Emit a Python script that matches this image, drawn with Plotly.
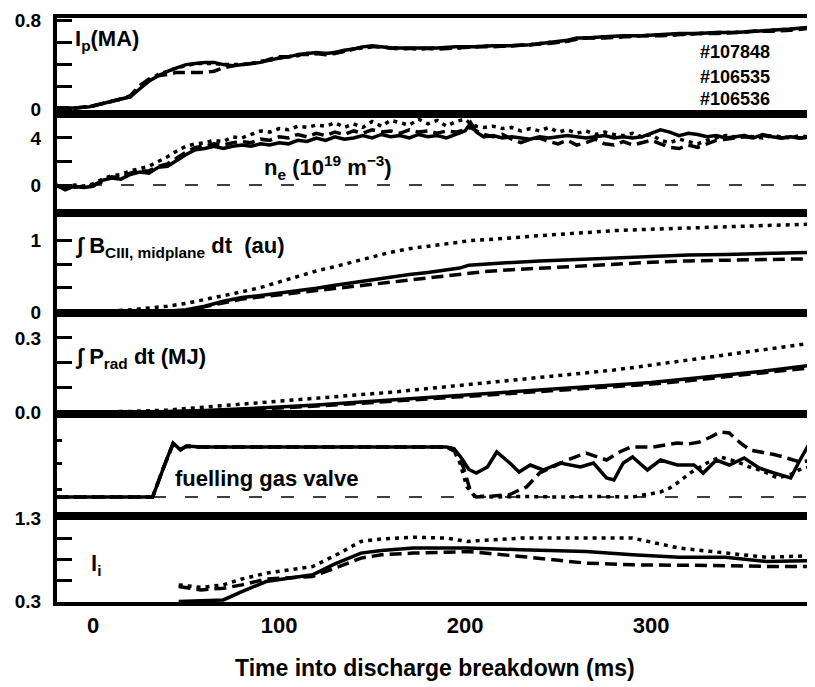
import plotly.graph_objects as go
from plotly.subplots import make_subplots

# shot numbers (solid, dashed, dotted)
shots = ["#107848", "#106535", "#106536"]

# ---- plasma current Ip (MA)
t_ip = [-20, -10, -2, 5, 10, 15, 20, 25, 30, 35, 40, 45, 50, 55, 60, 65, 70, 75, 80, 85,
        90, 95, 100, 105, 110, 115, 120, 125, 130, 135, 140, 145, 150, 155, 160, 165, 175,
        185, 195, 205, 215, 225, 235, 245, 255, 260, 265, 275, 285, 295, 305, 315, 325,
        335, 345, 355, 365, 375, 387]
ip_a = [0.01, 0.01, 0.02, 0.05, 0.07, 0.09, 0.11, 0.18, 0.25, 0.30, 0.34, 0.37, 0.40, 0.41,
        0.42, 0.42, 0.40, 0.39, 0.40, 0.41, 0.42, 0.44, 0.46, 0.47, 0.49, 0.50, 0.51, 0.50,
        0.51, 0.53, 0.54, 0.56, 0.57, 0.56, 0.55, 0.55, 0.55, 0.55, 0.56, 0.56, 0.57, 0.57,
        0.58, 0.60, 0.62, 0.64, 0.64, 0.65, 0.66, 0.66, 0.67, 0.68, 0.68, 0.69, 0.69, 0.70,
        0.71, 0.72, 0.74]
ip_b = [0.01, 0.01, 0.02, 0.05, 0.07, 0.09, 0.12, 0.21, 0.27, 0.30, 0.31, 0.33, 0.33, 0.33,
        0.33, 0.34, 0.37, 0.39, 0.40, 0.41, 0.42, 0.45, 0.47, 0.47, 0.49, 0.49, 0.50, 0.49,
        0.50, 0.52, 0.54, 0.56, 0.56, 0.56, 0.55, 0.54, 0.55, 0.54, 0.55, 0.56, 0.56, 0.57,
        0.58, 0.59, 0.61, 0.63, 0.64, 0.64, 0.65, 0.66, 0.66, 0.67, 0.68, 0.68, 0.69, 0.70,
        0.70, 0.71, 0.73]
ip_c = [0.01, 0.01, 0.02, 0.05, 0.07, 0.09, 0.11, 0.19, 0.26, 0.31, 0.34, 0.37, 0.39, 0.41,
        0.41, 0.41, 0.40, 0.40, 0.40, 0.41, 0.43, 0.44, 0.46, 0.47, 0.48, 0.50, 0.50, 0.50,
        0.51, 0.52, 0.54, 0.55, 0.56, 0.56, 0.55, 0.55, 0.54, 0.55, 0.55, 0.56, 0.57, 0.57,
        0.58, 0.60, 0.61, 0.63, 0.64, 0.65, 0.65, 0.66, 0.67, 0.67, 0.68, 0.69, 0.69, 0.70,
        0.71, 0.72, 0.73]

# ---- line averaged density ne (1e19 m^-3)
t_ne = [-20, -15, -10, -5, 0, 5, 10, 15, 20, 25, 30, 35, 40, 45, 50, 55, 60, 65, 70, 75,
        80, 85, 90, 95, 100, 105, 110, 115, 120, 125, 130, 135, 140, 145, 150, 155, 160,
        165, 170, 175, 180, 185, 190, 195, 200, 203, 206, 210, 215, 220, 225, 230, 235,
        240, 245, 250, 255, 260, 265, 270, 275, 280, 285, 290, 295, 300, 305, 310, 315,
        320, 325, 330, 335, 340, 345, 350, 355, 360, 365, 370, 375, 380, 387]
ne_a = [0.0, -0.4, -0.1, -0.2, -0.1, 0.4, 0.6, 0.5, 0.9, 1.1, 1.0, 1.5, 1.6, 2.1, 2.6, 3.0,
        3.1, 3.3, 3.1, 3.3, 3.4, 3.3, 3.5, 3.4, 3.6, 3.5, 3.8, 3.7, 4.0, 3.8, 4.1, 3.9, 4.0,
        4.2, 4.0, 4.3, 4.1, 4.2, 4.0, 4.3, 4.1, 4.2, 4.0, 4.3, 4.6, 5.3, 4.5, 4.1, 4.2, 4.0,
        4.1, 4.0, 3.9, 4.1, 4.0, 4.1, 4.2, 4.1, 4.0, 4.1, 4.2, 4.0, 4.1, 4.0, 4.1, 4.4, 4.7,
        4.5, 4.2, 4.4, 4.3, 4.1, 4.2, 4.0, 4.1, 4.2, 4.0, 4.3, 4.1, 4.0, 4.1, 4.0, 4.1]
ne_b = [0.0, -0.3, -0.2, -0.1, 0.0, 0.3, 0.7, 0.6, 1.0, 1.2, 1.2, 1.6, 1.8, 2.3, 2.8, 3.2,
        3.3, 3.5, 3.4, 3.6, 3.7, 3.6, 3.9, 3.8, 4.1, 4.0, 4.3, 4.1, 4.4, 4.2, 4.5, 4.3, 4.6,
        4.4, 4.7, 4.5, 4.6, 4.4, 4.7, 4.5, 4.6, 4.4, 4.6, 4.5, 4.7, 4.9, 4.6, 4.3, 4.1, 4.3,
        3.9, 3.6, 3.9, 4.0, 3.7, 3.5, 3.8, 3.4, 3.6, 3.9, 3.5, 3.4, 3.7, 3.4, 3.6, 3.8, 3.5,
        3.2, 3.1, 3.4, 3.2, 3.5, 3.8, 3.9, 4.0, 4.1, 4.0, 4.2, 4.1, 4.0, 4.1, 4.0, 4.1]
ne_c = [0.0, -0.3, 0.0, -0.1, 0.1, 0.5, 0.8, 0.9, 1.2, 1.4, 1.6, 2.0, 2.4, 2.9, 3.3, 3.5,
        3.6, 3.8, 3.7, 4.1, 4.0, 4.3, 4.6, 4.5, 4.8, 4.7, 5.0, 4.9, 5.1, 5.0, 5.3, 4.9, 5.2,
        4.9, 5.4, 5.0, 5.5, 5.3, 5.1, 5.6, 5.2, 5.5, 5.0, 5.4, 5.6, 5.2, 5.0, 4.9, 5.0, 4.8,
        4.9, 4.6, 4.8, 4.6, 4.9, 4.5, 4.7, 4.4, 4.6, 4.3, 4.5, 4.3, 4.2, 4.4, 4.1, 4.3, 3.8,
        3.6, 3.9, 3.7, 3.5, 3.8, 4.0, 4.2, 4.1, 4.2, 4.1, 4.0, 4.2, 4.1, 4.0, 4.2, 4.0]

# ---- integrated CIII midplane emission (au)
t_bc = [-20, 0, 20, 40, 50, 60, 70, 80, 90, 100, 110, 120, 130, 140, 150, 160, 170, 180,
        190, 197, 202, 210, 220, 240, 260, 280, 300, 320, 340, 360, 387]
bc_a = [0, 0, 0, 0.01, 0.03, 0.08, 0.15, 0.20, 0.23, 0.26, 0.29, 0.33, 0.37, 0.41, 0.45,
        0.49, 0.52, 0.55, 0.58, 0.61, 0.65, 0.66, 0.68, 0.71, 0.73, 0.76, 0.78, 0.79, 0.80,
        0.81, 0.83]
bc_b = [0, 0, 0, 0.01, 0.02, 0.07, 0.13, 0.18, 0.21, 0.24, 0.27, 0.30, 0.33, 0.36, 0.39,
        0.42, 0.45, 0.48, 0.51, 0.53, 0.54, 0.56, 0.58, 0.61, 0.64, 0.67, 0.69, 0.71, 0.72,
        0.73, 0.74]
bc_c = [0, 0, 0.03, 0.08, 0.12, 0.17, 0.22, 0.28, 0.34, 0.42, 0.50, 0.57, 0.63, 0.70, 0.77,
        0.83, 0.88, 0.91, 0.95, 0.97, 0.99, 1.00, 1.02, 1.06, 1.10, 1.13, 1.15, 1.17, 1.19,
        1.20, 1.22]

# ---- integrated radiated power (MJ)
t_pr = [-20, 0, 20, 40, 60, 80, 100, 120, 140, 160, 180, 200, 220, 240, 260, 280, 300, 320,
        340, 360, 387]
pr_a = [0, 0, 0, 0.002, 0.006, 0.012, 0.020, 0.028, 0.038, 0.050, 0.060, 0.070, 0.080,
        0.090, 0.100, 0.110, 0.120, 0.135, 0.150, 0.165, 0.190]
pr_b = [0, 0, 0, 0.001, 0.004, 0.009, 0.016, 0.024, 0.033, 0.044, 0.054, 0.063, 0.073,
        0.083, 0.093, 0.103, 0.113, 0.127, 0.142, 0.158, 0.180]
pr_c = [0, 0, 0.002, 0.008, 0.020, 0.030, 0.042, 0.055, 0.068, 0.080, 0.095, 0.110, 0.125,
        0.140, 0.155, 0.170, 0.190, 0.210, 0.230, 0.250, 0.280]

# ---- fuelling gas valve (relative opening)
t_va = [-20, 32, 38, 43, 47, 50, 58, 190, 194, 198, 202, 206, 212, 217, 224, 229, 235, 242,
        251, 262, 269, 276, 280, 285, 290, 298, 305, 314, 323, 328, 335, 342, 350, 358, 366,
        375, 380, 384, 387]
va_a = [0, 0, 0.6, 1.08, 0.94, 1.02, 1.0, 1.0, 0.97, 0.78, 0.55, 0.48, 0.6, 0.9, 0.68, 0.5,
        0.64, 0.54, 0.68, 0.6, 0.68, 0.38, 0.34, 0.68, 0.8, 0.54, 0.74, 0.64, 0.64, 0.48,
        0.74, 0.64, 0.78, 0.58, 0.48, 0.38, 0.74, 1.0, 0.88]
t_vb = [-20, 32, 38, 43, 47, 50, 58, 190, 195, 199, 203, 206, 215, 224, 228, 233, 240, 248,
        255, 265, 270, 276, 283, 289, 301, 308, 314, 320, 326, 332, 337, 342, 348, 353, 360,
        366, 371, 380, 387]
va_b = [0, 0, 0.6, 1.06, 0.95, 1.01, 1.0, 1.0, 0.9, 0.6, 0.1, 0.0, 0.02, 0.05, 0.12, 0.2,
        0.48, 0.62, 0.74, 0.88, 0.82, 0.74, 0.9, 1.0, 1.0, 1.04, 1.08, 1.06, 1.1, 1.2, 1.3,
        1.28, 1.08, 0.94, 0.9, 0.85, 0.8, 0.7, 0.74]
t_vc = [-20, 32, 38, 43, 47, 50, 58, 190, 194, 197, 201, 205, 215, 230, 250, 270, 290, 305,
        310, 314, 321, 330, 337, 345, 353, 360, 368, 375, 380, 384, 387]
va_c = [0, 0, 0.6, 1.07, 0.95, 1.02, 1.0, 1.0, 0.92, 0.7, 0.2, 0.02, 0.0, 0.01, 0.0, 0.01,
        0.0, 0.1, 0.18, 0.28, 0.48, 0.68, 0.8, 0.72, 0.6, 0.52, 0.38, 0.45, 0.55, 0.6, 0.62]

# ---- internal inductance li
t_li = [46, 58, 70, 80, 93, 105, 118, 130, 144, 155, 172, 190, 201, 230, 265, 290, 315, 340,
        362, 387]
li_a = [0.30, 0.31, 0.32, 0.42, 0.54, 0.58, 0.62, 0.75, 0.88, 0.91, 0.94, 0.94, 0.94, 0.92,
        0.90, 0.86, 0.83, 0.83, 0.78, 0.79]
li_b = [0.48, 0.44, 0.46, 0.50, 0.57, 0.58, 0.60, 0.70, 0.82, 0.86, 0.88, 0.89, 0.90, 0.84,
        0.76, 0.74, 0.74, 0.73, 0.72, 0.72]
li_c = [0.50, 0.47, 0.50, 0.57, 0.64, 0.68, 0.72, 0.85, 1.02, 1.05, 1.07, 1.06, 1.02, 1.06,
        1.06, 1.06, 0.94, 0.88, 0.83, 0.85]

FONT = "Liberation Sans, Arial, sans-serif"
STYLES = [dict(color="black", width=3.5),
          dict(color="black", width=3.5, dash="12px,6px"),
          dict(color="black", width=3.5, dash="4px,5px")]

panels = [
    ([t_ip, t_ip, t_ip], [ip_a, ip_b, ip_c]),
    ([t_ne, t_ne, t_ne], [ne_a, ne_b, ne_c]),
    ([t_bc, t_bc, t_bc], [bc_a, bc_b, bc_c]),
    ([t_pr, t_pr, t_pr], [pr_a, pr_b, pr_c]),
    ([t_va, t_vb, t_vc], [va_a, va_b, va_c]),
    ([t_li, t_li, t_li], [li_a, li_b, li_c]),
]

fig = make_subplots(rows=6, cols=1, shared_xaxes=True, vertical_spacing=0)

for row, (ts, ys) in enumerate(panels, start=1):
    for t, y, style in zip(ts, ys, STYLES):
        fig.add_trace(go.Scatter(x=t, y=y, mode="lines", line=style, showlegend=False),
                      row=row, col=1)

# dashed zero lines for density and valve
for row in (2, 5):
    fig.add_hline(y=0, row=row, col=1,
                  line=dict(color="black", width=1.5, dash="13px,19px"))

# y axes: range, tick positions, tick labels, tick length
yaxes = [
    ([-0.045, 0.82], [0, 0.2, 0.4, 0.6, 0.8], ["0", "", "", "", "0.8"], 15),
    ([-2.38, 6.04], [0, 2, 4], ["0", "", "4"], 15),
    ([-0.014, 1.375], [0, 1 / 3, 2 / 3, 1], ["0", "", "", "1"], 15),
    ([-0.008, 0.401], [0, 0.1, 0.2, 0.3], ["0.0", "", "", "0.3"], 15),
    ([-0.38, 1.66], [0.16, 0.68, 1.14], ["", "", ""], 5),
    ([0.295, 1.324], [0.3, 0.55, 0.8, 1.05, 1.3], ["0.3", "", "", "", "1.3"], 15),
]
# panel boundaries in screen pixels (top of first panel .. bottom of last)
bounds = [18, 114, 213, 313, 414, 516, 602]
span = bounds[-1] - bounds[0]
right_axes = {}
for i, (rng, tv, tt, tl) in enumerate(yaxes):
    top, bot = bounds[i], bounds[i + 1]
    fig.update_yaxes(row=i + 1, col=1, range=rng, tickvals=tv, ticktext=tt,
                     domain=[(bounds[-1] - bot) / span, (bounds[-1] - top) / span],
                     ticks="inside", ticklen=tl, tickwidth=3, tickcolor="black",
                     showline=True, linewidth=4, linecolor="black", mirror=False,
                     showgrid=False, zeroline=False, ticklabelstandoff=8,
                     tickfont=dict(family=FONT, size=19, color="black", weight="bold"))
    # short tick marks on the right-hand edge
    base = "y" if i == 0 else f"y{i + 1}"
    xname = "x" if i == 0 else f"x{i + 1}"
    right_axes[f"yaxis{i + 7}"] = dict(
        overlaying=base, anchor=xname, side="right",
        range=rng, tickvals=tv, showticklabels=False, ticks="inside", ticklen=6,
        tickwidth=3, tickcolor="black", showline=False, showgrid=False, zeroline=False)
    fig.add_trace(go.Scatter(x=[], y=[], xaxis=xname, yaxis=f"y{i + 7}",
                             showlegend=False, hoverinfo="skip"))
fig.update_layout(**right_axes)

fig.update_xaxes(range=[-19.4, 387], showline=True, linewidth=4, linecolor="black",
                 mirror=True, ticks="", showgrid=False, zeroline=False,
                 showticklabels=False)
fig.update_xaxes(row=6, col=1, showticklabels=True, tickvals=[0, 100, 200, 300],
                 ticklabelstandoff=1,
                 tickfont=dict(family=FONT, size=22, color="black", weight="bold"))

# panel labels
labels = [
    ("y", -11, 0.62, "I<sub>p</sub>(MA)", 22),
    ("y", 325, 0.51, shots[0], 18),
    ("y", 325, 0.29, shots[1], 18),
    ("y", 325, 0.09, shots[2], 18),
    ("y2", 91, 1.45, "n<sub>e</sub> (10<sup>19</sup> m<sup>\u22123</sup>)", 22),
    ("y3", -11, 0.9, "\u222b B<sub>CIII, midplane</sub> dt  (au)", 22),
    ("y4", -11, 0.22, "\u222b P<sub>rad</sub> dt (MJ)", 22),
    ("y5", 43, 0.38, "fuelling gas valve", 22),
    ("y6", -2, 0.74, "l<sub>i</sub>", 22),
]
for yref, x, y, text, size in labels:
    fig.add_annotation(xref="x", yref=yref, x=x, y=y, text=text, showarrow=False,
                       xanchor="left", yanchor="middle",
                       font=dict(family=FONT, size=size, color="black", weight="bold"))

fig.add_annotation(xref="paper", yref="paper", x=0.5, y=(bounds[-1] - 668) / span,
                   text="Time into discharge breakdown (ms)", showarrow=False,
                   xanchor="center", yanchor="middle",
                   font=dict(family=FONT, size=23, color="black", weight="bold"))

# the page body adds an 8px offset, so the figure is 8px smaller than the window
fig.update_layout(width=807, height=679, margin=dict(l=49, r=2, t=10, b=85),
                  plot_bgcolor="white", paper_bgcolor="white")

fig.write_html("out.html")
